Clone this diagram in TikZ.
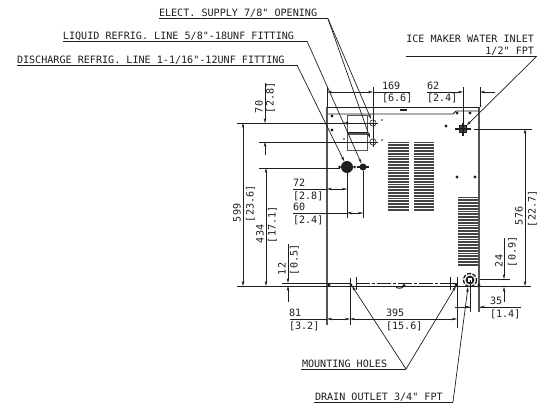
\documentclass[tikz,border=0pt]{standalone}
\usepackage{fontspec}
\newfontfamily\cadfont{DejaVu Sans Mono}
\usetikzlibrary{arrows.meta}
\definecolor{ink}{HTML}{1E1E1E}
\definecolor{body}{HTML}{555555}
\definecolor{vent}{HTML}{444444}
\tikzset{
  thin line/.style={draw=ink,line width=0.55pt},
  leader/.style={draw=ink,line width=0.7pt},
  wall/.style={draw=body,line width=1.1pt},
  dimarrow/.style={draw=ink,line width=0.55pt,-{Stealth[length=5pt,width=2.6pt]}},
  label/.style={inner sep=0pt,outer sep=0pt,anchor=base west,text=ink,font=\cadfont\fontsize{10.1}{10.1}\selectfont},
  labelr/.style={label,anchor=base east},
  vlabel/.style={label,rotate=90},
  spot/.style={circle,fill=ink,inner sep=0pt,minimum size=3.4pt},
  tiny/.style={circle,fill=ink,inner sep=0pt,minimum size=1.6pt},
  ventbar/.style={draw=vent,line width=1.9pt}
}
\begin{document}
\begin{tikzpicture}[x=1pt,y=-1pt]
\useasboundingbox (0,0) rectangle (547,407);
\fill[white] (0,0) rectangle (547,407);
% vents
\foreach \y in {142.5,145.3,...,211.5}{
  \draw[ventbar] (388,\y) -- (409,\y);
  \draw[ventbar] (414,\y) -- (434,\y);
}
\foreach \y in {197.5,200.3,...,267}{
  \draw[ventbar] (458,\y) -- (479,\y);
}
% cabinet
\draw[wall] (327,107) -- (327,325);
\draw[wall] (479,107) -- (479,312);
\draw[thin line,line width=0.8pt] (327,107) -- (479,107);
\draw[thin line,line width=0.8pt] (327,114) -- (453,114) -- (456,111) -- (479,111);
\draw[line width=1.6pt,draw=ink] (400,110) -- (407,110);
\draw[thin line,draw=body,line width=0.8pt] (347,115) rectangle (367,133);
\draw[thin line,draw=body,line width=0.8pt] (347,134) rectangle (367,150);
\draw[draw=ink,line width=1pt] (347,132.5) -- (367,132.5);
% base lines
\draw[draw=ink,line width=0.9pt] (237,286) -- (531,286);
\draw[draw=ink,line width=0.8pt] (282,283) -- (350,283);
\draw[draw=ink,line width=0.7pt,dash pattern=on 14pt off 2pt on 3pt off 2pt] (356,283) -- (450,283);
\draw[draw=ink,line width=0.8pt] (450,283) -- (458,283);
% small marks
\foreach \x/\y in {332/116,332/130,347/123,446/126,457/113,470/113,457/177,475/177,329/285,351/285,404/285.5,456/285,479/285}
  \node[spot] at (\x,\y) {};
\foreach \x/\y in {344/139,382/120,382/140,344/123,349/166}
  \node[tiny] at (\x,\y) {};
\draw[line width=1pt,draw=ink] (396,287.5) .. controls (398,288.5) and (401,288.5) .. (403,287.5);
% electrical openings
\draw[thin line] (373,123) circle (3.2);
\draw[thin line] (373,142) circle (3.2);
% refrigerant fittings
\node[circle,fill=ink,inner sep=0pt,minimum size=12pt] (discharge) at (347,167) {};
\node[tiny,minimum size=3pt] at (339.5,167) {};
\node[tiny,minimum size=3pt] at (354.5,167) {};
\node[circle,fill=ink,inner sep=0pt,minimum size=7pt] (liquid) at (363,167) {};
\draw[draw=ink,line width=1.4pt] (357,167) -- (369,167);
% water inlet
\node[draw=ink,fill=ink!80,inner sep=0pt,minimum size=7pt] (water) at (463,129) {};
\draw[draw=ink,line width=1.2pt] (455,129) -- (471,129);
\draw[draw=ink,line width=1.2pt] (463,123) -- (463,136);
% drain
\coordinate (drain) at (470,280);
\draw[draw=ink,line width=1.3pt,dash pattern=on 4pt off 1.5pt] (drain) circle (6.5);
\draw[draw=ink,line width=1.2pt] (drain) circle (3.8);
\draw[draw=ink,line width=0.6pt] (467.5,277.5) rectangle (472.5,282.5);
% extension lines
\draw[thin line] (327,87) -- (327,107);
\draw[thin line] (373,87) -- (373,147);
\draw[thin line] (463,87) -- (463,125);
\draw[thin line] (480,87) -- (480,107);
\draw[thin line] (237,123) -- (378,123);
\draw[thin line] (259,142) -- (378,142);
\draw[thin line] (259,168) -- (340,168);
\draw[thin line] (474,129) -- (532,129);
\draw[thin line] (347,173) -- (347,218);
\draw[thin line] (363,171) -- (363,218);
\draw[thin line] (350,278) -- (350,325);
\draw[thin line] (356,277) -- (356,290);
\draw[thin line] (450,277) -- (450,290);
\draw[thin line] (457,277) -- (457,328);
\draw[thin line] (470,280) -- (470,312);
\draw[thin line] (480,279) -- (510,279);
% dimension: 169 and 62
\draw[thin line] (373,92) -- (410,92);
\draw[dimarrow] (350,92) -- (327,92);
\draw[dimarrow] (350,92) -- (373,92);
\draw[dimarrow] (427,92) -- (463,92);
\draw[dimarrow] (495,92) -- (480,92);
\node[label] (d169) at (382,89) {169};
\node[label] (d169i) at (382,101.5) {[6.6]};
\node[label] (d62) at (427,89) {62};
\node[label] (d62i) at (427,101.5) {[2.4]};
% dimension: 599, 70, 434, 12
\draw[dimarrow] (243,200) -- (243,123);
\draw[dimarrow] (243,200) -- (243,286);
\draw[dimarrow] (265,83) -- (265,123);
\draw[dimarrow] (265,155) -- (265,142);
\draw[dimarrow] (266,220) -- (266,168);
\draw[dimarrow] (266,220) -- (266,286);
\draw[dimarrow] (288,244) -- (288,283);
\draw[dimarrow] (288,302) -- (288,286);
\node[vlabel] (d599) at (240.5,222) {599};
\node[vlabel] (d599i) at (253.5,222) {[23.6]};
\node[vlabel] (d70) at (262.5,113) {70};
\node[vlabel] (d70i) at (273.5,113) {[2.8]};
\node[vlabel] (d434) at (263.5,243) {434};
\node[vlabel] (d434i) at (275.5,243) {[17.1]};
\node[vlabel] (d12) at (285.5,275) {12};
\node[vlabel] (d12i) at (297.5,275) {[0.5]};
% dimension: 72 and 60
\draw[thin line] (293,189) -- (327,189);
\draw[dimarrow] (337,189) -- (327,189);
\draw[dimarrow] (337,189) -- (347,189);
\draw[thin line] (293,213) -- (347,213);
\draw[dimarrow] (355,213) -- (347,213);
\draw[dimarrow] (355,213) -- (363,213);
\node[label] (d72) at (293,186) {72};
\node[label] (d72i) at (293,199) {[2.8]};
\node[label] (d60) at (293,210) {60};
\node[label] (d60i) at (293,223) {[2.4]};
% dimension: 81 and 395
\draw[thin line] (290,319) -- (327,319);
\draw[dimarrow] (338,319) -- (327,319);
\draw[dimarrow] (338,319) -- (350,319);
\draw[dimarrow] (400,319) -- (350,319);
\draw[dimarrow] (400,319) -- (457,319);
\node[label] (d81) at (289,316) {81};
\node[label] (d81i) at (289,329) {[3.2]};
\node[label] (d395) at (386,316) {395};
\node[label] (d395i) at (386,329) {[15.6]};
% dimension: 35, 24, 576
\draw[thin line] (455,307) -- (470,307);
\draw[dimarrow] (462,307) -- (470,307);
\draw[thin line] (480,307) -- (521,307);
\draw[dimarrow] (490,307) -- (480,307);
\draw[dimarrow] (504,238) -- (504,279);
\draw[dimarrow] (504,302) -- (504,287);
\draw[dimarrow] (525,200) -- (525,129);
\draw[dimarrow] (525,200) -- (525,286);
\node[label] (d35) at (490,304) {35};
\node[label] (d35i) at (490,317) {[1.4]};
\node[vlabel] (d24) at (502.5,267) {24};
\node[vlabel] (d24i) at (515.5,267) {[0.9]};
\node[vlabel] (d576) at (522.5,225) {576};
\node[vlabel] (d576i) at (535.5,227) {[22.7]};
% callouts
\node[label] (elect) at (159,16) {ELECT. SUPPLY 7/8" OPENING};
\node[label] (liq) at (63,39) {LIQUID REFRIG. LINE 5/8"-18UNF FITTING};
\node[label] (dis) at (17,63) {DISCHARGE REFRIG. LINE 1-1/16"-12UNF FITTING};
\node[labelr] (ice1) at (534,42.5) {ICE MAKER WATER INLET};
\node[labelr] (ice2) at (534,54) {1/2" FPT};
\node[label] (holes) at (302,367) {MOUNTING HOLES};
\node[label] (drainlab) at (315,400) {DRAIN OUTLET 3/4" FPT};
\coordinate (ek) at (328,18.7);
\coordinate (lk) at (307,41);
\coordinate (dk) at (297,65);
\coordinate (wk) at (537,56);
\coordinate (hk) at (406,369);
\coordinate (rk) at (453,402);
\coordinate (open1) at (371,119);
\coordinate (open2) at (370,138);
\coordinate (hole1) at (352,286);
\coordinate (hole2) at (456,286);
\coordinate (drainpt) at (468,287);
\draw[leader] (159,18.7) -- (ek);
\draw[leader] (63,41) -- (lk);
\draw[leader] (17,65) -- (dk);
\draw[leader] (406,56) -- (wk);
\draw[leader] (301,369) -- (hk);
\draw[leader] (314,402) -- (rk);
\draw[leader,-{Stealth[length=5pt,width=2.6pt]}] (ek) -- (open1);
\draw[leader,-{Stealth[length=5pt,width=2.6pt]}] (ek) -- (open2);
\draw[leader,-{Stealth[length=5pt,width=2.6pt]}] (lk) -- (liquid);
\draw[leader,-{Stealth[length=5pt,width=2.6pt]}] (dk) -- (discharge);
\draw[leader,-{Stealth[length=5pt,width=2.6pt]}] (wk) -- (water);
\draw[leader,-{Stealth[length=5pt,width=2.6pt]}] (hk) -- (hole1);
\draw[leader,-{Stealth[length=5pt,width=2.6pt]}] (hk) -- (hole2);
\draw[leader,-{Stealth[length=5pt,width=2.6pt]}] (rk) -- (drainpt);
\end{tikzpicture}
\end{document}
